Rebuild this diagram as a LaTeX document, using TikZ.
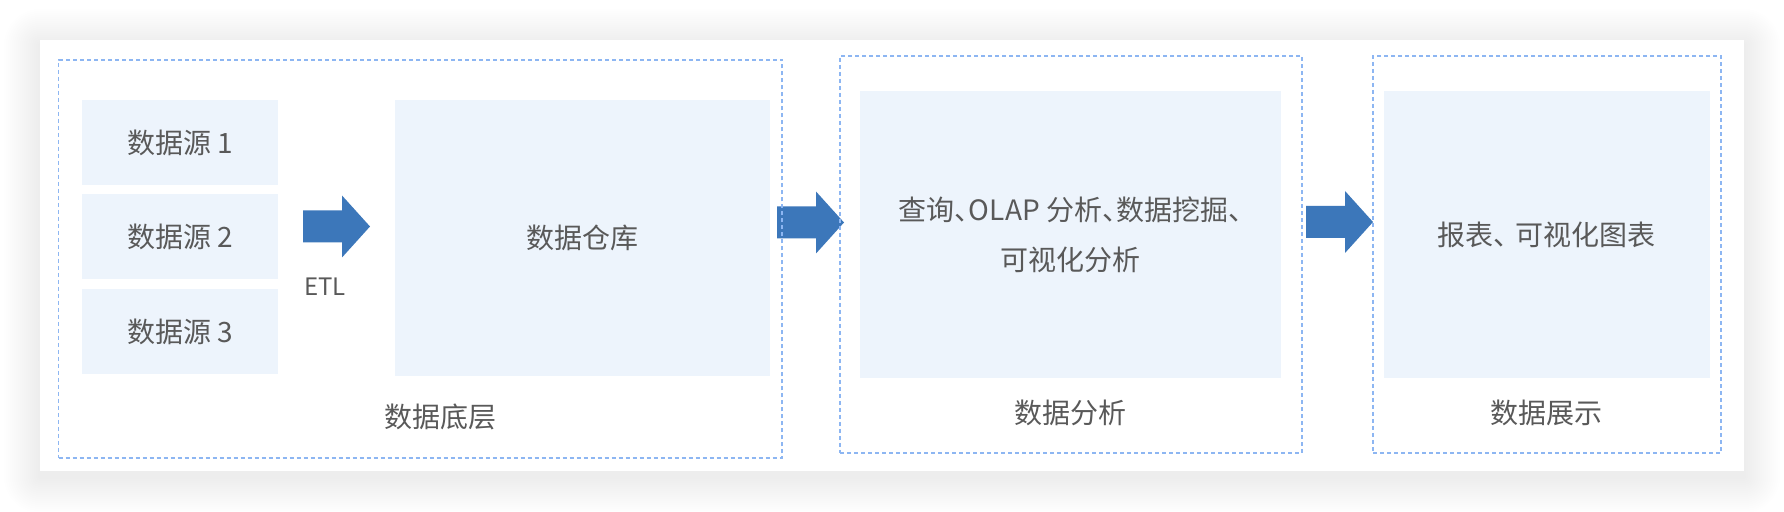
\documentclass[tikz,border=0pt]{standalone}
\usepackage{fontspec}
\setmainfont{Noto Sans CJK SC}
\definecolor{boxfill}{HTML}{EDF4FC}
\definecolor{framecol}{HTML}{8DB6F2}
\definecolor{arrowcol}{HTML}{3C77BA}
\definecolor{txtcol}{HTML}{595959}
\newcommand{\dun}{、\kern-0.5em}
\tikzset{
  cell/.style={fill=boxfill, inner sep=0pt, text=txtcol,
    font=\fontsize{14}{25}\selectfont, align=center},
  frame/.style={draw=framecol, dash pattern=on 2pt off 1.5pt,
    line width=0.6pt, inner sep=0pt},
  caption/.style={text=txtcol, font=\fontsize{14}{16}\selectfont, inner sep=0pt},
  pics/blockarrow/.style={code={
    \fill[arrowcol] (0,-16) -- (39,-16) -- (39,-31) -- (67,0)
      -- (39,31) -- (39,16) -- (0,16) -- cycle;}}
}
\begin{document}
\begin{tikzpicture}[x=0.5pt,y=-0.5pt]
  \useasboundingbox (0,0) rectangle (1784,512);
  \fill[white] (0,0) rectangle (1784,512);
  % soft shadow under the panel
  \foreach \s in {2,4,...,36}
    \fill[black, opacity=0.004, rounded corners=\s*0.5pt]
      (40-\s,45-\s) rectangle (1744+\s,477+\s);
  \fill[white] (40,40) rectangle (1744,471);

  % boxes
  \node[cell, minimum width=98pt, minimum height=42.5pt] (src1) at (180,142.5) {数据源 1};
  \node[cell, minimum width=98pt, minimum height=42.5pt] (src2) at (180,237) {数据源 2};
  \node[cell, minimum width=98pt, minimum height=42.5pt] (src3) at (180,332) {数据源 3};
  \node[cell, minimum width=187.25pt, minimum height=138pt] (dw) at (582.25,238) {数据仓库};
  \node[cell, minimum width=210.5pt, minimum height=143.5pt] (olap) at (1070.5,234.5)
    {查询\dun OLAP 分析\dun 数据挖掘\dun\\可视化分析};
  \node[cell, minimum width=162.75pt, minimum height=143.5pt] (report) at (1546.75,234.5)
    {报表、\kern-0.2em 可视化图表};

  % arrows
  \coordinate (etl) at (303,226.5);
  \coordinate (toana) at (777,222.5);
  \coordinate (toshow) at (1306,222);
  \pic at (etl) {blockarrow};
  \pic at (toana) {blockarrow};
  \pic at (toshow) {blockarrow};
  \node[caption, font=\fontsize{12}{14}\selectfont] (etllbl) at (325,287) {ETL};

  % layers
  \node[frame, minimum width=361.75pt, minimum height=199pt] (layer1) at (420.25,259) {};
  \node[frame, minimum width=231pt, minimum height=198.5pt] (layer2) at (1071,254.5) {};
  \node[frame, minimum width=174pt, minimum height=198.5pt] (layer3) at (1547,254.5) {};
  \node[caption] (base) at (440,417) {数据底层};
  \node[caption] (ana) at (1070,413) {数据分析};
  \node[caption] (show) at (1546,413) {数据展示};
\end{tikzpicture}
\end{document}
